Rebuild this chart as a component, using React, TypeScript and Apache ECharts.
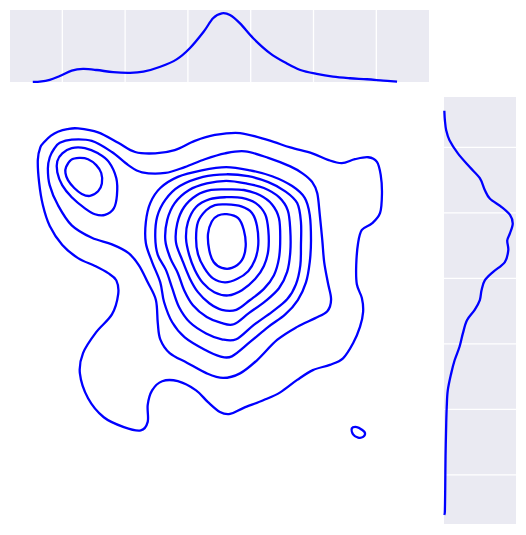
import React, { useEffect, useRef } from 'react';
import * as echarts from 'echarts';

type Pt = [number, number];

// positions of the white grid lines on the marginal panels (hidden tick values)
const xTicks = [1, 2, 3, 4, 5, 6];
const yTicks = [1, 2, 3, 4, 5, 6];

// visible data range of the joint axes
const xRange: Pt = [0.167, 6.839];
const yRange: Pt = [0.25, 6.77];
const densityMax = 0.42;

// ---- 2D KDE contour lines (x, y) ----
// level 1: outermost contour
const level1Main: Pt[] = [
  [0.61, 5.81], [0.65, 6.0], [0.72, 6.09], [0.82, 6.18], [0.93, 6.24], [1.08, 6.28],
  [1.25, 6.29], [1.57, 6.23], [1.89, 6.07],
  [2.16, 5.93], [2.48, 5.91], [2.79, 5.96], [3.11, 6.1], [3.43, 6.19], [3.83, 6.22],
  [4.28, 6.11], [4.63, 6.0], [4.98, 5.91], [5.23, 5.81], [5.45, 5.76], [5.66, 5.82],
  [5.87, 5.85], [6.01, 5.78], [6.07, 5.58], [6.09, 5.3], [6.06, 5.0], [5.93, 4.84],
  [5.77, 4.74], [5.71, 4.54], [5.68, 4.2], [5.69, 3.91], [5.77, 3.7], [5.79, 3.49],
  [5.74, 3.26], [5.63, 3.01], [5.47, 2.78], [5.26, 2.68], [4.99, 2.6], [4.74, 2.45],
  [4.47, 2.26], [4.2, 2.14], [3.88, 2.02], [3.67, 1.93], [3.51, 1.96], [3.32, 2.11],
  [3.13, 2.29], [2.84, 2.43], [2.59, 2.43], [2.43, 2.29], [2.36, 2.07], [2.36, 1.81],
  [2.25, 1.68], [1.98, 1.73], [1.66, 1.88], [1.41, 2.17], [1.28, 2.55], [1.33, 2.86],
  [1.54, 3.18], [1.79, 3.45], [1.89, 3.76], [1.86, 3.97], [1.73, 4.08], [1.52, 4.19],
  [1.25, 4.31], [1.0, 4.51], [0.8, 4.8], [0.69, 5.12], [0.63, 5.47],
];
const level1Island: Pt[] = [
  [5.61, 1.71], [5.69, 1.73], [5.77, 1.69], [5.82, 1.64], [5.79, 1.58], [5.71, 1.57], [5.63, 1.62],
];
// level 2
const level2: Pt[] = [
  [0.77, 5.68], [0.8, 5.85], [0.87, 5.98], [0.96, 6.07], [1.15, 6.12], [1.47, 6.1], [1.79, 5.93],
  [2.05, 5.73], [2.27, 5.62], [2.64, 5.61], [2.95, 5.7], [3.27, 5.82], [3.59, 5.91],
  [3.91, 5.94], [4.28, 5.84], [4.63, 5.71], [4.83, 5.6], [4.98, 5.47], [5.06, 5.3], [5.1, 4.97],
  [5.14, 4.58], [5.17, 4.25], [5.23, 3.93], [5.28, 3.68], [5.22, 3.5], [5.02, 3.39],
  [4.74, 3.26], [4.42, 3.06], [4.1, 2.75], [3.83, 2.55], [3.56, 2.48], [3.3, 2.55],
  [2.99, 2.71], [2.71, 2.86], [2.56, 3.07], [2.52, 3.32], [2.49, 3.67], [2.36, 3.94],
  [2.22, 4.2], [2.05, 4.39], [1.79, 4.52], [1.47, 4.62], [1.15, 4.81], [0.93, 5.12], [0.8, 5.42],
];
// upper-left peak
const level3Left: Pt[] = [
  [1.0, 5.91], [1.15, 5.99], [1.36, 5.99], [1.57, 5.91], [1.74, 5.78], [1.86, 5.53],
  [1.87, 5.27], [1.82, 5.07], [1.68, 4.97], [1.52, 4.98], [1.36, 5.07], [1.15, 5.24],
  [1.0, 5.42], [0.92, 5.62], [0.92, 5.79],
];
const level4Left: Pt[] = [
  [1.06, 5.7], [1.14, 5.81], [1.27, 5.84], [1.41, 5.82], [1.54, 5.73], [1.62, 5.61],
  [1.63, 5.45], [1.57, 5.33], [1.44, 5.26], [1.31, 5.29], [1.19, 5.38], [1.09, 5.5], [1.05, 5.61],
];
// main peak, levels 3 to 9
const level3Main: Pt[] = [
  [3.61, 5.7], [3.99, 5.65], [4.34, 5.56], [4.66, 5.41], [4.86, 5.23], [4.94, 4.97],
  [4.96, 4.58], [4.94, 4.25], [4.88, 3.94], [4.75, 3.67], [4.55, 3.45], [4.28, 3.26],
  [3.99, 3.03], [3.7, 2.81], [3.51, 2.81], [3.27, 2.91], [2.95, 3.1], [2.75, 3.33],
  [2.62, 3.64], [2.56, 3.94], [2.43, 4.25], [2.33, 4.54], [2.33, 4.86], [2.4, 5.15],
  [2.56, 5.38], [2.84, 5.55], [3.22, 5.65],
];
const level4Main: Pt[] = [
  [3.61, 5.59], [3.96, 5.56], [4.28, 5.47], [4.55, 5.33], [4.74, 5.15], [4.8, 4.86],
  [4.8, 4.51], [4.79, 4.2], [4.72, 3.91], [4.58, 3.68], [4.34, 3.49], [4.05, 3.29],
  [3.77, 3.07], [3.54, 3.07], [3.29, 3.16], [3.03, 3.33], [2.86, 3.56], [2.75, 3.85],
  [2.65, 4.13], [2.52, 4.36], [2.48, 4.63], [2.51, 4.94], [2.64, 5.2], [2.87, 5.41], [3.24, 5.55],
];
const level5Main: Pt[] = [
  [3.61, 5.49], [3.93, 5.45], [4.21, 5.38], [4.45, 5.24], [4.59, 5.04], [4.63, 4.74],
  [4.63, 4.4], [4.58, 4.1], [4.45, 3.85], [4.23, 3.65], [3.97, 3.47], [3.73, 3.3],
  [3.53, 3.32], [3.3, 3.41], [3.08, 3.59], [2.94, 3.82], [2.84, 4.08], [2.72, 4.31],
  [2.64, 4.58], [2.67, 4.89], [2.79, 5.15], [3.02, 5.35], [3.3, 5.45],
];
const level6Main: Pt[] = [
  [3.61, 5.36], [3.89, 5.35], [4.15, 5.27], [4.34, 5.13], [4.45, 4.92], [4.47, 4.61],
  [4.45, 4.31], [4.37, 4.05], [4.21, 3.84], [3.99, 3.67], [3.77, 3.52], [3.54, 3.52],
  [3.34, 3.62], [3.16, 3.79], [3.03, 4.0], [2.91, 4.28], [2.81, 4.55], [2.83, 4.84],
  [2.94, 5.09], [3.14, 5.27], [3.37, 5.35],
];
const level7Main: Pt[] = [
  [3.61, 5.24], [3.86, 5.23], [4.08, 5.15], [4.23, 4.98], [4.28, 4.74], [4.28, 4.43],
  [4.21, 4.19], [4.07, 3.99], [3.86, 3.82], [3.64, 3.74], [3.42, 3.79], [3.24, 3.93],
  [3.11, 4.13], [3.02, 4.36], [2.97, 4.61], [3.0, 4.86], [3.13, 5.09], [3.35, 5.21],
];
const level8Main: Pt[] = [
  [3.61, 5.13], [3.85, 5.1], [4.02, 5.0], [4.1, 4.8], [4.12, 4.51], [4.07, 4.29],
  [3.96, 4.11], [3.78, 3.99], [3.59, 3.94], [3.4, 4.0], [3.26, 4.16], [3.16, 4.37],
  [3.13, 4.61], [3.16, 4.86], [3.29, 5.04], [3.43, 5.12],
];
const level9Main: Pt[] = [
  [3.62, 4.98], [3.8, 4.92], [3.89, 4.74], [3.92, 4.49], [3.86, 4.28], [3.7, 4.16],
  [3.54, 4.16], [3.41, 4.25], [3.34, 4.43], [3.32, 4.68], [3.38, 4.87], [3.48, 4.96],
];

// ---- marginal densities ----
// top: [x, density]
const marginalX: Pt[] = [
  [0.53, 0.001], [0.64, 0.002], [0.8, 0.012], [0.96, 0.035], [1.15, 0.066], [1.33, 0.076],
  [1.55, 0.07], [1.81, 0.057], [2.08, 0.053], [2.29, 0.06], [2.56, 0.089], [2.82, 0.132],
  [3.03, 0.197], [3.25, 0.293], [3.4, 0.372], [3.54, 0.401], [3.67, 0.391], [3.83, 0.342],
  [4.04, 0.255], [4.31, 0.167], [4.57, 0.109], [4.79, 0.07], [5.05, 0.047], [5.31, 0.031],
  [5.58, 0.022], [5.85, 0.016], [6.11, 0.008], [6.33, 0.002],
];
// right: [density, y]
const marginalY: Pt[] = [
  [0.002, 6.56], [0.005, 6.42], [0.013, 6.26], [0.032, 6.11], [0.081, 5.91], [0.15, 5.7],
  [0.209, 5.53], [0.238, 5.35], [0.267, 5.22], [0.336, 5.09], [0.385, 4.97], [0.401, 4.84],
  [0.385, 4.69], [0.369, 4.58], [0.375, 4.43], [0.355, 4.25], [0.287, 4.1], [0.238, 3.97],
  [0.219, 3.82], [0.209, 3.67], [0.179, 3.52], [0.134, 3.36], [0.11, 3.16], [0.091, 2.96],
  [0.062, 2.75], [0.042, 2.55], [0.022, 2.29], [0.016, 2.04], [0.013, 1.79], [0.009, 1.28],
  [0.007, 0.77], [0.005, 0.44], [0.002, 0.39],
];

const contours: Pt[][] = [
  level1Main, level1Island, level2, level3Left, level4Left,
  level3Main, level4Main, level5Main, level6Main, level7Main, level8Main, level9Main,
];

const LINE = '#0000ff';
const PANEL = '#eaeaf2';
const LINE_WIDTH = 2.3;

// Catmull-Rom through the projected points, written as cubic beziers
const splinePath = (pts: number[][], closed: boolean): string => {
  const n = pts.length;
  const at = (i: number) =>
    closed ? pts[(i + n) % n] : pts[Math.max(0, Math.min(n - 1, i))];
  let d = `M${pts[0][0]},${pts[0][1]}`;
  const segs = closed ? n : n - 1;
  for (let i = 0; i < segs; i++) {
    const p0 = at(i - 1);
    const p1 = at(i);
    const p2 = at(i + 1);
    const p3 = at(i + 2);
    const c1x = p1[0] + (p2[0] - p0[0]) / 6;
    const c1y = p1[1] + (p2[1] - p0[1]) / 6;
    const c2x = p2[0] - (p3[0] - p1[0]) / 6;
    const c2y = p2[1] - (p3[1] - p1[1]) / 6;
    d += ` C${c1x},${c1y} ${c2x},${c2y} ${p2[0]},${p2[1]}`;
  }
  if (closed) d += ' Z';
  return d;
};

const curveSeries = (pts: Pt[], closed: boolean, axis: number) => ({
  type: 'custom',
  xAxisIndex: axis,
  yAxisIndex: axis,
  data: pts,
  encode: { x: 0, y: 1 },
  silent: true,
  clip: false,
  z: 3,
  renderItem: (params: any, api: any) => {
    if (params.dataIndex !== 0) return null;
    const projected = pts.map((p) => api.coord(p));
    return {
      type: 'path',
      shape: { pathData: splinePath(projected, closed) },
      style: { fill: 'none', stroke: LINE, lineWidth: LINE_WIDTH, lineJoin: 'round' },
    };
  },
});

const App: React.FC = () => {
  const chartRef = useRef<HTMLDivElement>(null);

  useEffect(() => {
    if (!chartRef.current) return;
    const chart = echarts.init(chartRef.current, undefined, { renderer: 'svg' });

    const hidden = { show: false };

    const topGrid = xTicks.map((v) => ({
      type: 'line',
      xAxisIndex: 1,
      yAxisIndex: 1,
      data: [[v, 0], [v, densityMax]],
      symbol: 'none',
      silent: true,
      z: 1,
      lineStyle: { color: '#ffffff', width: 1.3 },
    }));

    const rightGrid = yTicks.map((v) => ({
      type: 'line',
      xAxisIndex: 2,
      yAxisIndex: 2,
      data: [[0, v], [densityMax, v]],
      symbol: 'none',
      silent: true,
      z: 1,
      lineStyle: { color: '#ffffff', width: 1.3 },
    }));

    const option: echarts.EChartsOption = {
      animation: false,
      backgroundColor: '#ffffff',
      grid: [
        { left: 10, top: 97, width: 419, height: 427 },
        { left: 10, top: 10, width: 419, height: 72, show: true, backgroundColor: PANEL, borderWidth: 0 },
        { left: 444, top: 97, width: 72, height: 427, show: true, backgroundColor: PANEL, borderWidth: 0 },
      ],
      xAxis: [
        { type: 'value', gridIndex: 0, min: xRange[0], max: xRange[1], ...hidden },
        { type: 'value', gridIndex: 1, min: xRange[0], max: xRange[1], ...hidden },
        { type: 'value', gridIndex: 2, min: 0, max: densityMax, ...hidden },
      ],
      yAxis: [
        { type: 'value', gridIndex: 0, min: yRange[0], max: yRange[1], ...hidden },
        { type: 'value', gridIndex: 1, min: 0, max: densityMax, ...hidden },
        { type: 'value', gridIndex: 2, min: yRange[0], max: yRange[1], ...hidden },
      ],
      series: [
        ...topGrid,
        ...rightGrid,
        ...contours.map((pts) => curveSeries(pts, true, 0)),
        curveSeries(marginalX, false, 1),
        curveSeries(marginalY, false, 2),
      ] as echarts.SeriesOption[],
    };

    chart.setOption(option);

    return () => {
      chart.dispose();
    };
  }, []);

  return (
    <div
      ref={chartRef}
      style={{ position: 'fixed', left: 0, top: 0, width: '526px', height: '535px' }}
    />
  );
};

export default App;
